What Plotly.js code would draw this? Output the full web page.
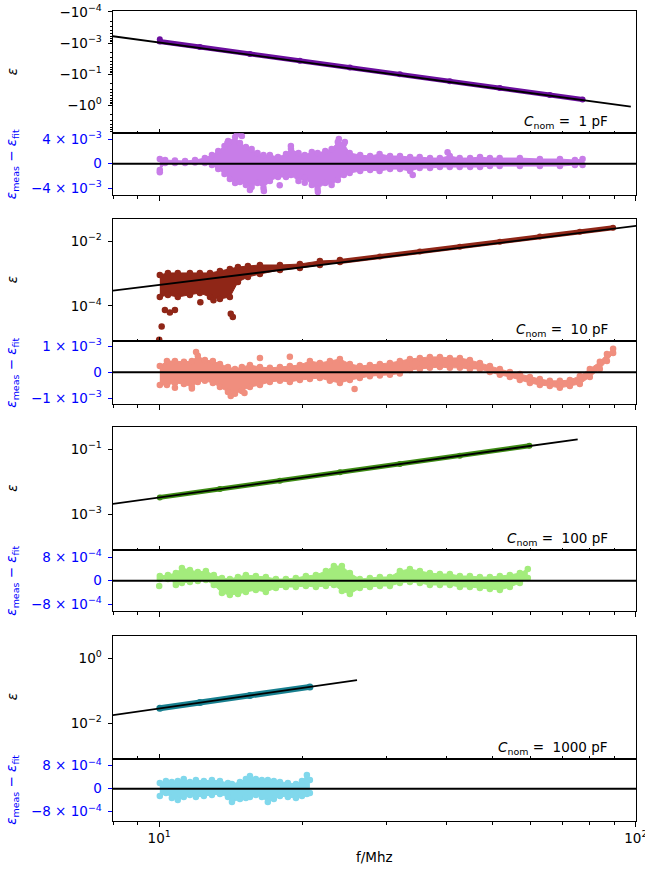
<!DOCTYPE html>
<html><head><meta charset="utf-8">
<script src="https://cdn.plot.ly/plotly-3.0.1.min.js"></script>
<style>html,body{margin:0;padding:0;background:#fff}#chart{width:645px;height:869px}</style>
</head><body><div id="chart"></div>
<script>
// ---------------- DATA ----------------
const capLabels = ["1 pF", "10 pF", "100 pF", "1000 pF"];
const xTickVals = [10, 100];
const xTickText = ["10<sup>1</sup>", "10<sup>2</sup>"];

// Panel 1 (1 pF) measured epsilon (magnitude on the plotted scale)
const f1 = [10.03, 10.03, 12.17, 15.50, 19.73, 25.12, 31.98, 40.72, 51.84, 66.00, 77.3];
const eps1 = [0.00075, 0.000895, 0.00134, 0.00223, 0.00369, 0.00614, 0.0101, 0.0169, 0.0279, 0.0465, 0.0647];
const fitF1 = [7.5, 97.6];
const fitE1 = [0.000527, 0.111];
const resF1 = [10.03,10.29,10.79,11.33,11.89,12.47,12.9,13.3,13.71,14.07,14.43,14.77,15.2,15.63,16.08,16.55,17.07,17.75,18.45,18.9,19.6,20.2,20.9,21.5,22.3,23.0,23.7,24.4,25.1,26.4,27.7,29.0,30.5,32.0,33.6,35.2,37.0,38.8,40.7,42.7,44.9,47.1,49.4,51.8,57.1,62.9,69.3,74.5,77.3];
const resTop1 = [0.77e-3,0.60e-3,0.52e-3,0.44e-3,0.60e-3,0.93e-3,1.42e-3,2.07e-3,2.89e-3,3.54e-3,4.36e-3,3.38e-3,2.73e-3,2.40e-3,1.75e-3,1.42e-3,1.42e-3,1.09e-3,1.58e-3,2.40e-3,1.75e-3,1.42e-3,1.91e-3,1.75e-3,2.07e-3,2.40e-3,3.54e-3,3.22e-3,1.75e-3,1.42e-3,1.26e-3,1.58e-3,1.26e-3,1.26e-3,1.09e-3,1.09e-3,0.93e-3,0.93e-3,1.26e-3,0.93e-3,0.93e-3,1.09e-3,0.93e-3,0.93e-3,0.93e-3,0.77e-3,0.77e-3,0.60e-3,0.77e-3];
const resBot1 = [-1.03e-3,0.11e-3,0.11e-3,0.11e-3,0.20e-3,0.11e-3,-0.21e-3,-0.87e-3,-1.68e-3,-2.50e-3,-3.15e-3,-2.99e-3,-3.48e-3,-3.80e-3,-3.15e-3,-3.97e-3,-2.83e-3,-2.17e-3,-2.17e-3,-1.85e-3,-2.83e-3,-2.34e-3,-3.48e-3,-4.13e-3,-3.15e-3,-3.48e-3,-2.66e-3,-1.85e-3,-1.52e-3,-1.19e-3,-1.03e-3,-1.19e-3,-0.87e-3,-0.87e-3,-1.19e-3,-0.70e-3,-0.70e-3,-0.54e-3,-0.54e-3,-0.54e-3,-0.54e-3,-0.54e-3,-0.38e-3,-0.38e-3,-0.38e-3,-0.38e-3,-0.38e-3,-0.21e-3,-0.21e-3];
const resOutF1 = [10.03, 14.56, 14.91, 23.82, 24.52, 21.52, 16.58, 40.27, 34.04, 18.89, 13.95, 15.5, 17.9, 20.2, 13.9];
const resOutV1 = [-1.40e-3, 4.85e-3, 4.52e-3, 4.03e-3, 3.54e-3, -4.62e-3, -4.46e-3, 1.86e-3, -1.85e-3, 2.89e-3, 3.7e-3, -4.3e-3, -3.5e-3, -3.1e-3, 3.4e-3];

// Panel 2 (10 pF)
const blobF2 = [10.03, 10.43, 10.94, 11.60, 12.17, 12.78, 13.41, 14.07, 14.63, 15.35, 16.27, 17.92, 19.73, 21.73, 23.94];
const blobTop2 = [9.0e-4, 1.04e-3, 1.04e-3, 1.04e-3, 1.04e-3, 1.04e-3, 1.19e-3, 1.37e-3, 1.58e-3, 1.70e-3, 1.83e-3, 1.83e-3, 1.96e-3, 2.43e-3, 2.59e-3];
const blobBot2 = [1.89e-4, 2.18e-4, 1.89e-4, 2.18e-4, 2.51e-4, 1.89e-4, 1.64e-4, 1.89e-4, 5.47e-4, 7.8e-4, 9.66e-4, 1.28e-3, 1.48e-3, 1.83e-3, 2.26e-3];
const f2 = [23.94, 29.04, 35.23, 42.74, 51.84, 62.89, 76.29, 89.6];
const eps2 = [2.34e-3, 3.33e-3, 4.75e-3, 6.73e-3, 9.6e-3, 1.37e-2, 1.93e-2, 2.58e-2];
const outF2 = [10.0, 10.12, 10.28, 10.53, 10.79, 14.13, 14.27, 13.0, 12.2];
const outE2 = [9.0e-6, 2.31e-5, 7.5e-5, 6.3e-5, 7.5e-5, 5.7e-5, 4.6e-5, 1.5e-4, 1.3e-4];
const fitF2 = [7.5, 110];
const fitE2 = [2.62e-4, 3.47e-2];
const resF2 = [10.03,10.38,10.79,11.27,11.71,12.05,12.47,12.96,13.41,13.94,14.42,14.91,15.50,16.27,17.07,17.92,18.80,19.73,20.71,21.73,22.81,23.94,25.12,26.36,27.67,29.04,30.48,31.98,33.57,35.23,36.97,38.80,40.72,42.74,44.85,47.07,49.40,51.84,54.41,57.10,59.93,62.89,66.00,69.27,72.70,76.29,80.07,84.03,86.95,89.6];
const resTop2 = [0.24e-3,0.43e-3,0.43e-3,0.40e-3,0.43e-3,0.63e-3,0.47e-3,0.43e-3,0.32e-3,0.20e-3,0.13e-3,0.20e-3,0.28e-3,0.20e-3,0.17e-3,0.20e-3,0.24e-3,0.28e-3,0.43e-3,0.36e-3,0.43e-3,0.51e-3,0.32e-3,0.24e-3,0.28e-3,0.32e-3,0.36e-3,0.43e-3,0.51e-3,0.55e-3,0.59e-3,0.59e-3,0.55e-3,0.55e-3,0.47e-3,0.36e-3,0.24e-3,0.13e-3,0.01e-3,-0.07e-3,-0.18e-3,-0.26e-3,-0.33e-3,-0.33e-3,-0.30e-3,-0.14e-3,0.13e-3,0.40e-3,0.70e-3,0.90e-3];
const resBot2 = [-0.49e-3,-0.49e-3,-0.41e-3,-0.45e-3,-0.57e-3,-0.37e-3,-0.33e-3,-0.41e-3,-0.57e-3,-0.76e-3,-0.83e-3,-0.72e-3,-0.57e-3,-0.49e-3,-0.37e-3,-0.33e-3,-0.37e-3,-0.30e-3,-0.26e-3,-0.22e-3,-0.33e-3,-0.41e-3,-0.30e-3,-0.22e-3,-0.15e-3,-0.12e-3,-0.10e-3,-0.05e-3,0.09e-3,0.13e-3,0.17e-3,0.20e-3,0.17e-3,0.17e-3,0.13e-3,0.13e-3,0.01e-3,-0.10e-3,-0.18e-3,-0.30e-3,-0.41e-3,-0.49e-3,-0.53e-3,-0.60e-3,-0.53e-3,-0.45e-3,-0.18e-3,0.13e-3,0.43e-3,0.74e-3];
const resOutF2 = [11.71, 14.13, 15.1, 11.95, 10.79, 25.7, 16.27, 18.8];
const resOutV2 = [-0.62e-3, -0.91e-3, -0.80e-3, 0.78e-3, -0.60e-3, -0.64e-3, 0.55e-3, 0.60e-3];

// Panel 3 (100 pF)
const f3 = [10.03, 13.41, 17.92, 23.94, 31.98, 42.74, 59.8];
const eps3 = [3.32e-3, 6.0e-3, 1.08e-2, 1.96e-2, 3.53e-2, 6.38e-2, 0.1285];
const fitF3 = [7.5, 75.5];
const fitE3 = [1.83e-3, 0.204];
const resF3 = [10.03,10.43,10.84,11.16,11.60,12.05,12.53,13.02,13.54,14.07,14.63,15.20,15.95,16.74,17.57,18.44,19.35,20.31,21.32,22.37,23.25,24.17,25.12,26.36,27.67,29.04,30.48,31.98,33.57,35.23,36.97,38.80,40.72,42.74,44.85,47.07,49.40,51.84,54.41,57.10,59.34];
const resTop3 = [1.61e-4,1.96e-4,2.64e-4,4.36e-4,3.67e-4,2.98e-4,3.33e-4,1.96e-4,0.93e-4,0.58e-4,1.27e-4,1.96e-4,1.61e-4,1.27e-4,0.58e-4,0.58e-4,0.93e-4,1.61e-4,1.96e-4,3.33e-4,5.04e-4,5.04e-4,2.64e-4,0.58e-4,0.93e-4,1.27e-4,1.27e-4,3.33e-4,4.01e-4,3.33e-4,2.64e-4,2.30e-4,2.30e-4,1.61e-4,1.61e-4,1.27e-4,1.27e-4,1.61e-4,1.96e-4,2.64e-4,4.01e-4];
const resBot3 = [0.58e-4,0.58e-4,-0.45e-4,-0.79e-4,-0.45e-4,-0.10e-4,0.24e-4,-1.47e-4,-4.22e-4,-4.91e-4,-4.56e-4,-3.88e-4,-3.19e-4,-3.88e-4,-2.50e-4,-2.16e-4,-2.16e-4,-1.82e-4,-2.16e-4,-1.82e-4,-1.47e-4,-3.53e-4,-4.56e-4,-2.50e-4,-2.16e-4,-1.82e-4,-1.82e-4,-0.79e-4,-0.45e-4,-0.79e-4,-1.47e-4,-1.47e-4,-1.47e-4,-2.16e-4,-2.16e-4,-2.50e-4,-2.85e-4,-3.19e-4,-2.16e-4,-0.79e-4,0.93e-4];
const resOutF3 = [10.0, 10.84];
const resOutV3 = [-1.82e-4, -1.5e-4];

// Panel 4 (1000 pF)
const f4 = [10.03, 12.17, 15.50, 20.71];
const eps4 = [2.90e-2, 4.35e-2, 7.22e-2, 0.1327];
const fitF4 = [7.5, 26.0];
const fitE4 = [1.57e-2, 0.214];
const resF4 = [10.03,10.33,10.63,10.94,11.26,11.60,11.94,12.41,12.90,13.41,13.94,14.21,14.77,15.20,15.50,15.95,16.42,16.90,17.40,17.92,18.62,19.36,19.93,20.41,20.71];
const resTop4 = [1.98e-4,2.68e-4,2.33e-4,2.68e-4,3.38e-4,2.33e-4,3.03e-4,2.68e-4,3.03e-4,2.68e-4,1.98e-4,1.64e-4,2.33e-4,3.38e-4,4.42e-4,3.38e-4,3.03e-4,3.03e-4,2.68e-4,2.33e-4,1.98e-4,1.64e-4,2.68e-4,4.77e-4,3.03e-4];
const resBot4 = [-2.54e-4,-1.50e-4,-3.24e-4,-3.93e-4,-2.89e-4,-2.19e-4,-2.89e-4,-2.54e-4,-2.19e-4,-1.84e-4,-2.89e-4,-4.63e-4,-3.58e-4,-3.24e-4,-2.89e-4,-2.19e-4,-2.89e-4,-4.63e-4,-3.58e-4,-2.54e-4,-2.89e-4,-3.24e-4,-2.54e-4,-1.84e-4,-1.50e-4];

// ---------------- STYLE ----------------
const FONT = "DejaVu Sans, Liberation Sans, sans-serif";
const mainCol = ["#6b0e9e", "#8f2617", "#3e8c14", "#177f8f"];
const resCol = ["#c87de8", "#f08e7e", "#a3ec7c", "#80d8ec"];

const traces = [];
function ax(i){ return {xaxis: 'x' + i, yaxis: 'y' + i}; }
function band(i, f, top, bot, color, size){
  traces.push(Object.assign({x: f, y: top, mode: 'lines+markers', line: {color: color, width: 1}, marker: {size: size, color: color}, hoverinfo: 'skip', type: 'scatter'}, ax(i)));
  traces.push(Object.assign({x: f, y: bot, mode: 'lines+markers', line: {color: color, width: 1}, fill: 'tonexty', fillcolor: color, marker: {size: size, color: color}, hoverinfo: 'skip', type: 'scatter'}, ax(i)));
}
function pts(i, f, v, color, size){
  traces.push(Object.assign({x: f, y: v, mode: 'markers', marker: {size: size, color: color}, hoverinfo: 'skip', type: 'scatter'}, ax(i)));
}
function lineBand(i, f, v, color, w){
  traces.push(Object.assign({x: f, y: v, mode: 'lines+markers', line: {color: color, width: w}, marker: {size: w + 1, color: color}, hoverinfo: 'skip', type: 'scatter'}, ax(i)));
}
function fit(i, f, v){
  traces.push(Object.assign({x: f, y: v, mode: 'lines', line: {color: 'black', width: 1.8}, hoverinfo: 'skip', type: 'scatter'}, ax(i)));
}

// Panel 1
lineBand(1, f1, eps1, mainCol[0], 5);
fit(1, fitF1, fitE1);
band(2, resF1, resTop1, resBot1, resCol[0], 6.5);
pts(2, resOutF1, resOutV1, resCol[0], 6.5);
// Panel 2
band(3, blobF2, blobTop2, blobBot2, mainCol[1], 6.5);
lineBand(3, f2, eps2, mainCol[1], 5);
pts(3, outF2, outE2, mainCol[1], 6.5);
fit(3, fitF2, fitE2);
band(4, resF2, resTop2, resBot2, resCol[1], 6.5);
pts(4, resOutF2, resOutV2, resCol[1], 6.5);
// Panel 3
lineBand(5, f3, eps3, mainCol[2], 5);
fit(5, fitF3, fitE3);
band(6, resF3, resTop3, resBot3, resCol[2], 6.5);
pts(6, resOutF3, resOutV3, resCol[2], 6.5);
// Panel 4
lineBand(7, f4, eps4, mainCol[3], 6);
fit(7, fitF4, fitE4);
band(8, resF4, resTop4, resBot4, resCol[3], 6.5);

// ---------------- LAYOUT ----------------
const H = 810; // plot-area height in px (paper)
function dom(top, bot){ return [(821 - bot) / H, (821 - top) / H]; }
const domains = [dom(10.7,133.3), dom(133.3,195), dom(219,341.3), dom(341.3,404), dom(427.3,550), dom(550,611.3), dom(635.7,758.7), dom(758.7,821)];

const minorX = [8, 9, 20, 30, 40, 50, 60, 70, 80, 90];
const minorY1 = [];
for (let d = -5; d <= 0; d++) for (let k = 2; k <= 9; k++) minorY1.push(k * Math.pow(10, d));

const layout = {
  width: 645, height: 869,
  margin: {l: 113, r: 9, t: 11, b: 48},
  paper_bgcolor: 'white', plot_bgcolor: 'white',
  showlegend: false,
  font: {family: FONT, size: 13.5, color: 'black'},
  shapes: [], annotations: []
};

const mainY = [
  {range: [-0.10, -4.03], tickvals: [1e-4, 1e-3, 1e-2, 1e-1], ticktext: ["−10<sup>−4</sup>", "−10<sup>−3</sup>", "−10<sup>−1</sup>", "−10<sup>0</sup>"], minor: {ticks: 'outside', ticklen: 2.5, tickcolor: 'black', tickvals: minorY1, showgrid: false}},
  {range: [-5.09, -1.32], tickvals: [1e-4, 1e-2], ticktext: ["10<sup>−4</sup>", "10<sup>−2</sup>"]},
  {range: [-4.10, -0.32], tickvals: [1e-3, 1e-1], ticktext: ["10<sup>−3</sup>", "10<sup>−1</sup>"]},
  {range: [-3.09, 0.70], tickvals: [1e-2, 1], ticktext: ["10<sup>−2</sup>", "10<sup>0</sup>"]}
];
const resY = [
  {range: [-5.1e-3, 4.97e-3], tickvals: [-4e-3, 0, 4e-3], ticktext: ["−4 × 10<sup>−3</sup>", "0", "4 × 10<sup>−3</sup>"]},
  {range: [-1.22e-3, 1.19e-3], tickvals: [-1e-3, 0, 1e-3], ticktext: ["−1 × 10<sup>−3</sup>", "0", "1 × 10<sup>−3</sup>"]},
  {range: [-1.05e-3, 1.054e-3], tickvals: [-8e-4, 0, 8e-4], ticktext: ["−8 × 10<sup>−4</sup>", "0", "8 × 10<sup>−4</sup>"]},
  {range: [-1.123e-3, 1.043e-3], tickvals: [-8e-4, 0, 8e-4], ticktext: ["−8 × 10<sup>−4</sup>", "0", "8 × 10<sup>−4</sup>"]}
];

for (let i = 1; i <= 8; i++) {
  const isMain = (i % 2 === 1);
  const p = Math.floor((i - 1) / 2);
  layout['xaxis' + (i === 1 ? '' : i)] = {
    type: 'log', range: [Math.log10(8), 2.0003], domain: [0, 1], anchor: 'y' + i,
    showline: true, mirror: true, linecolor: 'black', linewidth: 1,
    showgrid: false, zeroline: false,
    ticks: isMain ? 'inside' : 'outside', ticklen: 4.5, tickwidth: 1, tickcolor: 'black',
    tickmode: 'array', tickvals: xTickVals, ticktext: xTickText,
    showticklabels: i === 8, ticklabeloverflow: 'allow', tickfont: {size: 13.5, color: 'black'},
    minor: {ticks: isMain ? 'inside' : 'outside', ticklen: 2.5, tickcolor: 'black', tickvals: minorX, showgrid: false}
  };
  const yBase = {
    domain: domains[i - 1], anchor: 'x' + i,
    showline: true, mirror: true, linecolor: 'black', linewidth: 1,
    showgrid: false, zeroline: false, ticks: 'outside', ticklen: 4.5, tickwidth: 1,
    tickmode: 'array', ticklabelstandoff: 3
  };
  if (isMain) {
    layout['yaxis' + (i === 1 ? '' : i)] = Object.assign(yBase, {type: 'log', tickcolor: 'black', tickfont: {size: 13.5, color: 'black'}}, mainY[p]);
    layout.annotations.push({xref: 'x' + i + ' domain', yref: 'y' + i + ' domain', x: 0.951, y: 0.09, xanchor: 'right', yanchor: 'middle',
      text: "<i>C</i><sub>nom</sub> =  " + capLabels[p], showarrow: false, font: {size: 13.5, color: 'black'}});
    layout.annotations.push({xref: 'paper', yref: 'y' + i + ' domain', x: (12 - 113) / 523, y: 0.5, xanchor: 'center', yanchor: 'middle',
      text: "<i>ε</i>", textangle: -90, showarrow: false, font: {size: 13.5, color: 'black'}});
  } else {
    layout['yaxis' + i] = Object.assign(yBase, {type: 'linear', tickcolor: '#0000ff', tickfont: {size: 13.5, color: '#0000ff'}}, resY[p]);
    layout.shapes.push({type: 'line', xref: 'x' + i + ' domain', x0: 0, x1: 1, yref: 'y' + i, y0: 0, y1: 0, line: {color: 'black', width: 2}, layer: 'above'});
    layout.annotations.push({xref: 'paper', yref: 'y' + i + ' domain', x: (12 - 113) / 523, y: 0.5, xanchor: 'center', yanchor: 'middle',
      text: "<i>ε</i><sub>meas</sub> − <i>ε</i><sub>fit</sub>", textangle: -90, showarrow: false, font: {size: 13.5, color: '#0000ff'}});
  }
}
layout.annotations.push({xref: 'paper', yref: 'paper', x: 0.5, y: (821 - 857) / H, xanchor: 'center', yanchor: 'middle',
  text: "f/Mhz", showarrow: false, font: {size: 13.5, color: 'black'}});

Plotly.newPlot('chart', traces, layout, {displayModeBar: false, staticPlot: true});
</script></body></html>
